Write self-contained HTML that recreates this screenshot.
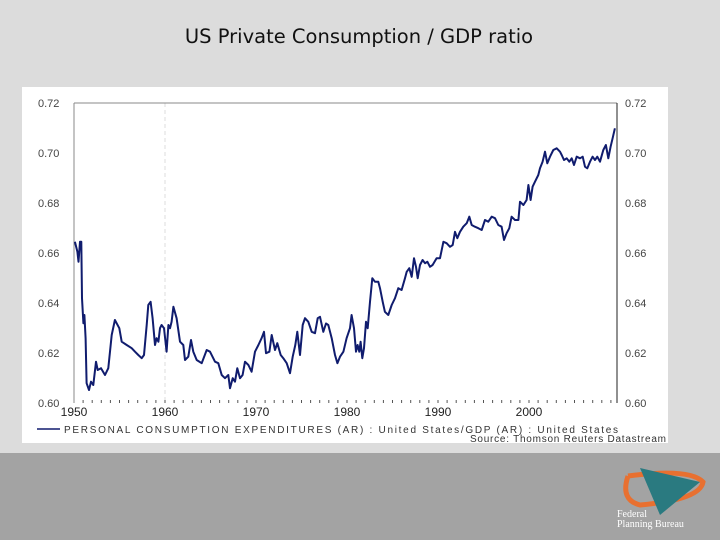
<!DOCTYPE html>
<html><head><meta charset="utf-8"><style>
body{margin:0;width:720px;height:540px;overflow:hidden;background:#dcdcdc;font-family:"Liberation Sans",sans-serif;position:relative}
#title{position:absolute;top:25px;left:0;width:718px;text-align:center;font-size:19.5px;color:#111;font-family:"DejaVu Sans",sans-serif}
#band{position:absolute;left:0;top:453px;width:720px;height:87px;background:#a3a3a3}
#panel{position:absolute;left:22px;top:87px;width:646px;height:356px;background:#fff}
</style></head><body>
<div id="title">US Private Consumption / GDP ratio</div>
<div id="band"></div>
<div id="panel"></div>
<svg id="chart" width="720" height="540" style="position:absolute;left:0;top:0" xmlns="http://www.w3.org/2000/svg">
<g id="logo">
<path d="M628 476 Q690 468 703 482 Q700 500 640 505 Q620 500 628 476" fill="none" stroke="#e87030" stroke-width="5"/>
<polygon points="640,468 700,482 660,515" fill="#2a7a80"/>
<text x="617" y="517" font-family="Liberation Serif,serif" font-size="10" fill="#fff">Federal</text>
<text x="617" y="527" font-family="Liberation Serif,serif" font-size="10" fill="#fff">Planning Bureau</text>
</g>
</svg>
<script>
const years=[1950.1,1950.37,1950.5,1950.66,1950.8,1950.88,1951.03,1951.14,1951.28,1951.39,1951.65,1951.87,1952.12,1952.42,1952.6,1952.97,1953.41,1953.77,1954.14,1954.5,1954.98,1955.24,1955.79,1956.34,1956.7,1957.07,1957.44,1957.69,1957.99,1958.17,1958.42,1958.64,1958.9,1959.08,1959.27,1959.45,1959.63,1959.89,1960.18,1960.37,1960.55,1960.73,1960.92,1961.28,1961.65,1962.01,1962.2,1962.56,1962.86,1963.11,1963.48,1964.03,1964.58,1964.95,1965.49,1965.86,1966.23,1966.59,1966.96,1967.14,1967.44,1967.69,1967.95,1968.24,1968.53,1968.79,1969.16,1969.52,1969.89,1970.26,1970.62,1970.88,1971.1,1971.47,1971.72,1972.09,1972.34,1972.71,1973.0,1973.37,1973.74,1974.03,1974.32,1974.54,1974.84,1975.13,1975.38,1975.75,1976.12,1976.48,1976.78,1977.03,1977.4,1977.69,1977.95,1978.32,1978.68,1978.94,1979.23,1979.6,1979.96,1980.33,1980.51,1980.77,1980.99,1981.17,1981.35,1981.5,1981.68,1981.87,1982.09,1982.27,1982.53,1982.78,1983.08,1983.44,1983.63,1983.92,1984.17,1984.54,1984.91,1985.27,1985.64,1986.0,1986.37,1986.56,1986.85,1987.11,1987.36,1987.58,1987.77,1988.02,1988.31,1988.57,1988.83,1989.12,1989.41,1989.85,1990.22,1990.59,1990.95,1991.32,1991.61,1991.87,1992.12,1992.42,1992.78,1993.15,1993.44,1993.7,1994.06,1994.43,1994.8,1995.16,1995.53,1995.9,1996.26,1996.63,1996.99,1997.25,1997.54,1997.84,1998.09,1998.46,1998.83,1999.01,1999.38,1999.74,1999.93,2000.18,2000.4,2000.66,2001.02,2001.21,2001.5,2001.76,2002.01,2002.31,2002.67,2003.04,2003.41,2003.59,2003.85,2004.14,2004.43,2004.69,2004.94,2005.24,2005.6,2005.9,2006.15,2006.41,2006.7,2006.99,2007.25,2007.5,2007.8,2008.16,2008.45,2008.71,2008.97,2009.19,2009.44];
const ratio=[0.6645,0.6605,0.6565,0.6645,0.6645,0.6419,0.6319,0.6352,0.6259,0.6079,0.6052,0.6085,0.6072,0.6165,0.6132,0.6139,0.6112,0.6139,0.6272,0.6332,0.6299,0.6245,0.6232,0.6219,0.6205,0.6192,0.6179,0.6192,0.6312,0.6392,0.6405,0.6339,0.6232,0.6259,0.6245,0.6299,0.6312,0.6299,0.6205,0.6312,0.6299,0.6325,0.6385,0.6339,0.6245,0.6232,0.6172,0.6185,0.6252,0.6205,0.6172,0.6159,0.6212,0.6205,0.6165,0.6159,0.6112,0.6099,0.6112,0.6059,0.6099,0.6085,0.6139,0.6099,0.6112,0.6165,0.6152,0.6125,0.6205,0.6232,0.6259,0.6285,0.6199,0.6205,0.6272,0.6212,0.6239,0.6192,0.6179,0.6159,0.6119,0.6185,0.6232,0.6285,0.6192,0.6312,0.6339,0.6325,0.6285,0.6279,0.6339,0.6345,0.6285,0.6318,0.6312,0.6259,0.6192,0.6159,0.6185,0.6205,0.6259,0.6299,0.6352,0.6299,0.6205,0.6232,0.6205,0.6245,0.6179,0.6219,0.6325,0.6299,0.6405,0.6499,0.6485,0.6485,0.6459,0.6405,0.6365,0.6352,0.6392,0.6419,0.6459,0.6452,0.6499,0.6525,0.6539,0.6505,0.6579,0.6545,0.6499,0.6552,0.6572,0.6559,0.6565,0.6545,0.6552,0.6579,0.6579,0.6645,0.6639,0.6625,0.6632,0.6685,0.6659,0.6685,0.6705,0.6719,0.6745,0.6712,0.6705,0.6699,0.6692,0.6732,0.6725,0.6745,0.6739,0.6712,0.6705,0.6652,0.6679,0.6699,0.6745,0.6732,0.6732,0.6805,0.6792,0.6812,0.6872,0.6812,0.6865,0.6885,0.6912,0.6939,0.6965,0.7005,0.6959,0.6985,0.7012,0.7019,0.7005,0.6992,0.6972,0.6979,0.6965,0.6979,0.6952,0.6985,0.6979,0.6985,0.6945,0.6939,0.6965,0.6985,0.6972,0.6985,0.6965,0.7012,0.7032,0.6979,0.7025,0.7059,0.7099];
const yTicks=[0.60,0.62,0.64,0.66,0.68,0.70,0.72];
const xTicks=[1950,1960,1970,1980,1990,2000];
const NS='http://www.w3.org/2000/svg';
const svg=document.getElementById('chart');
const X0=74,X1=617,Y0=403,Y1=103;
const x=yr=>X0+(yr-1950)*9.1;
const y=v=>Y0-(v-0.60)*2500;
function mk(tag,attrs,parent){const e=document.createElementNS(NS,tag);for(const k in attrs)e.setAttribute(k,attrs[k]);(parent||svg).appendChild(e);return e;}
let e;
e=mk('line',{x1:x(1960),x2:x(1960),y1:Y1,y2:Y0,stroke:'#ddd','stroke-dasharray':'4,3'});


e=mk('line',{x1:X0,x2:X1,y1:Y1,y2:Y1,stroke:'#888'});


e=mk('line',{x1:X0,x2:X0,y1:Y1,y2:Y0,stroke:'#888'});


e=mk('line',{x1:X1,x2:X1,y1:Y1,y2:Y0,stroke:'#222'});


yTicks.forEach(v=>{
 e=mk('text',{x:38,y:y(v)+4,'font-size':'11',fill:'#444'});e.textContent=v.toFixed(2);
 
 
 e=mk('text',{x:625,y:y(v)+4,'font-size':'11',fill:'#444'});e.textContent=v.toFixed(2);
 
 
});
for(let yr=1951;yr<=2009;yr++){
 e=mk('line',{x1:x(yr),x2:x(yr),y1:Y0-3,y2:Y0,stroke:'#555'});
 
 
}
xTicks.forEach(t=>{
 e=mk('text',{x:x(t),y:416,'font-size':'12','text-anchor':'middle',fill:'#222'});e.textContent=t;
 
 
});
const pts=years.map((yr,i)=>x(yr).toFixed(1)+','+y(ratio[i]).toFixed(1)).join(' ');
e=mk('polyline',{points:pts,fill:'none',stroke:'#101c6e','stroke-width':'2','stroke-linejoin':'round'});


e=mk('line',{x1:37,x2:60,y1:429,y2:429,stroke:'#101c6e','stroke-width':'1.5'});


e=mk('text',{x:64,y:433,'font-size':'10',fill:'#333',textLength:'554',lengthAdjust:'spacing'});e.textContent='PERSONAL CONSUMPTION EXPENDITURES (AR) : United States/GDP (AR) : United States';


e=mk('text',{x:470,y:442,'font-size':'10',fill:'#333',textLength:'196',lengthAdjust:'spacing'});e.textContent='Source: Thomson Reuters Datastream';


</script>
</body></html>
